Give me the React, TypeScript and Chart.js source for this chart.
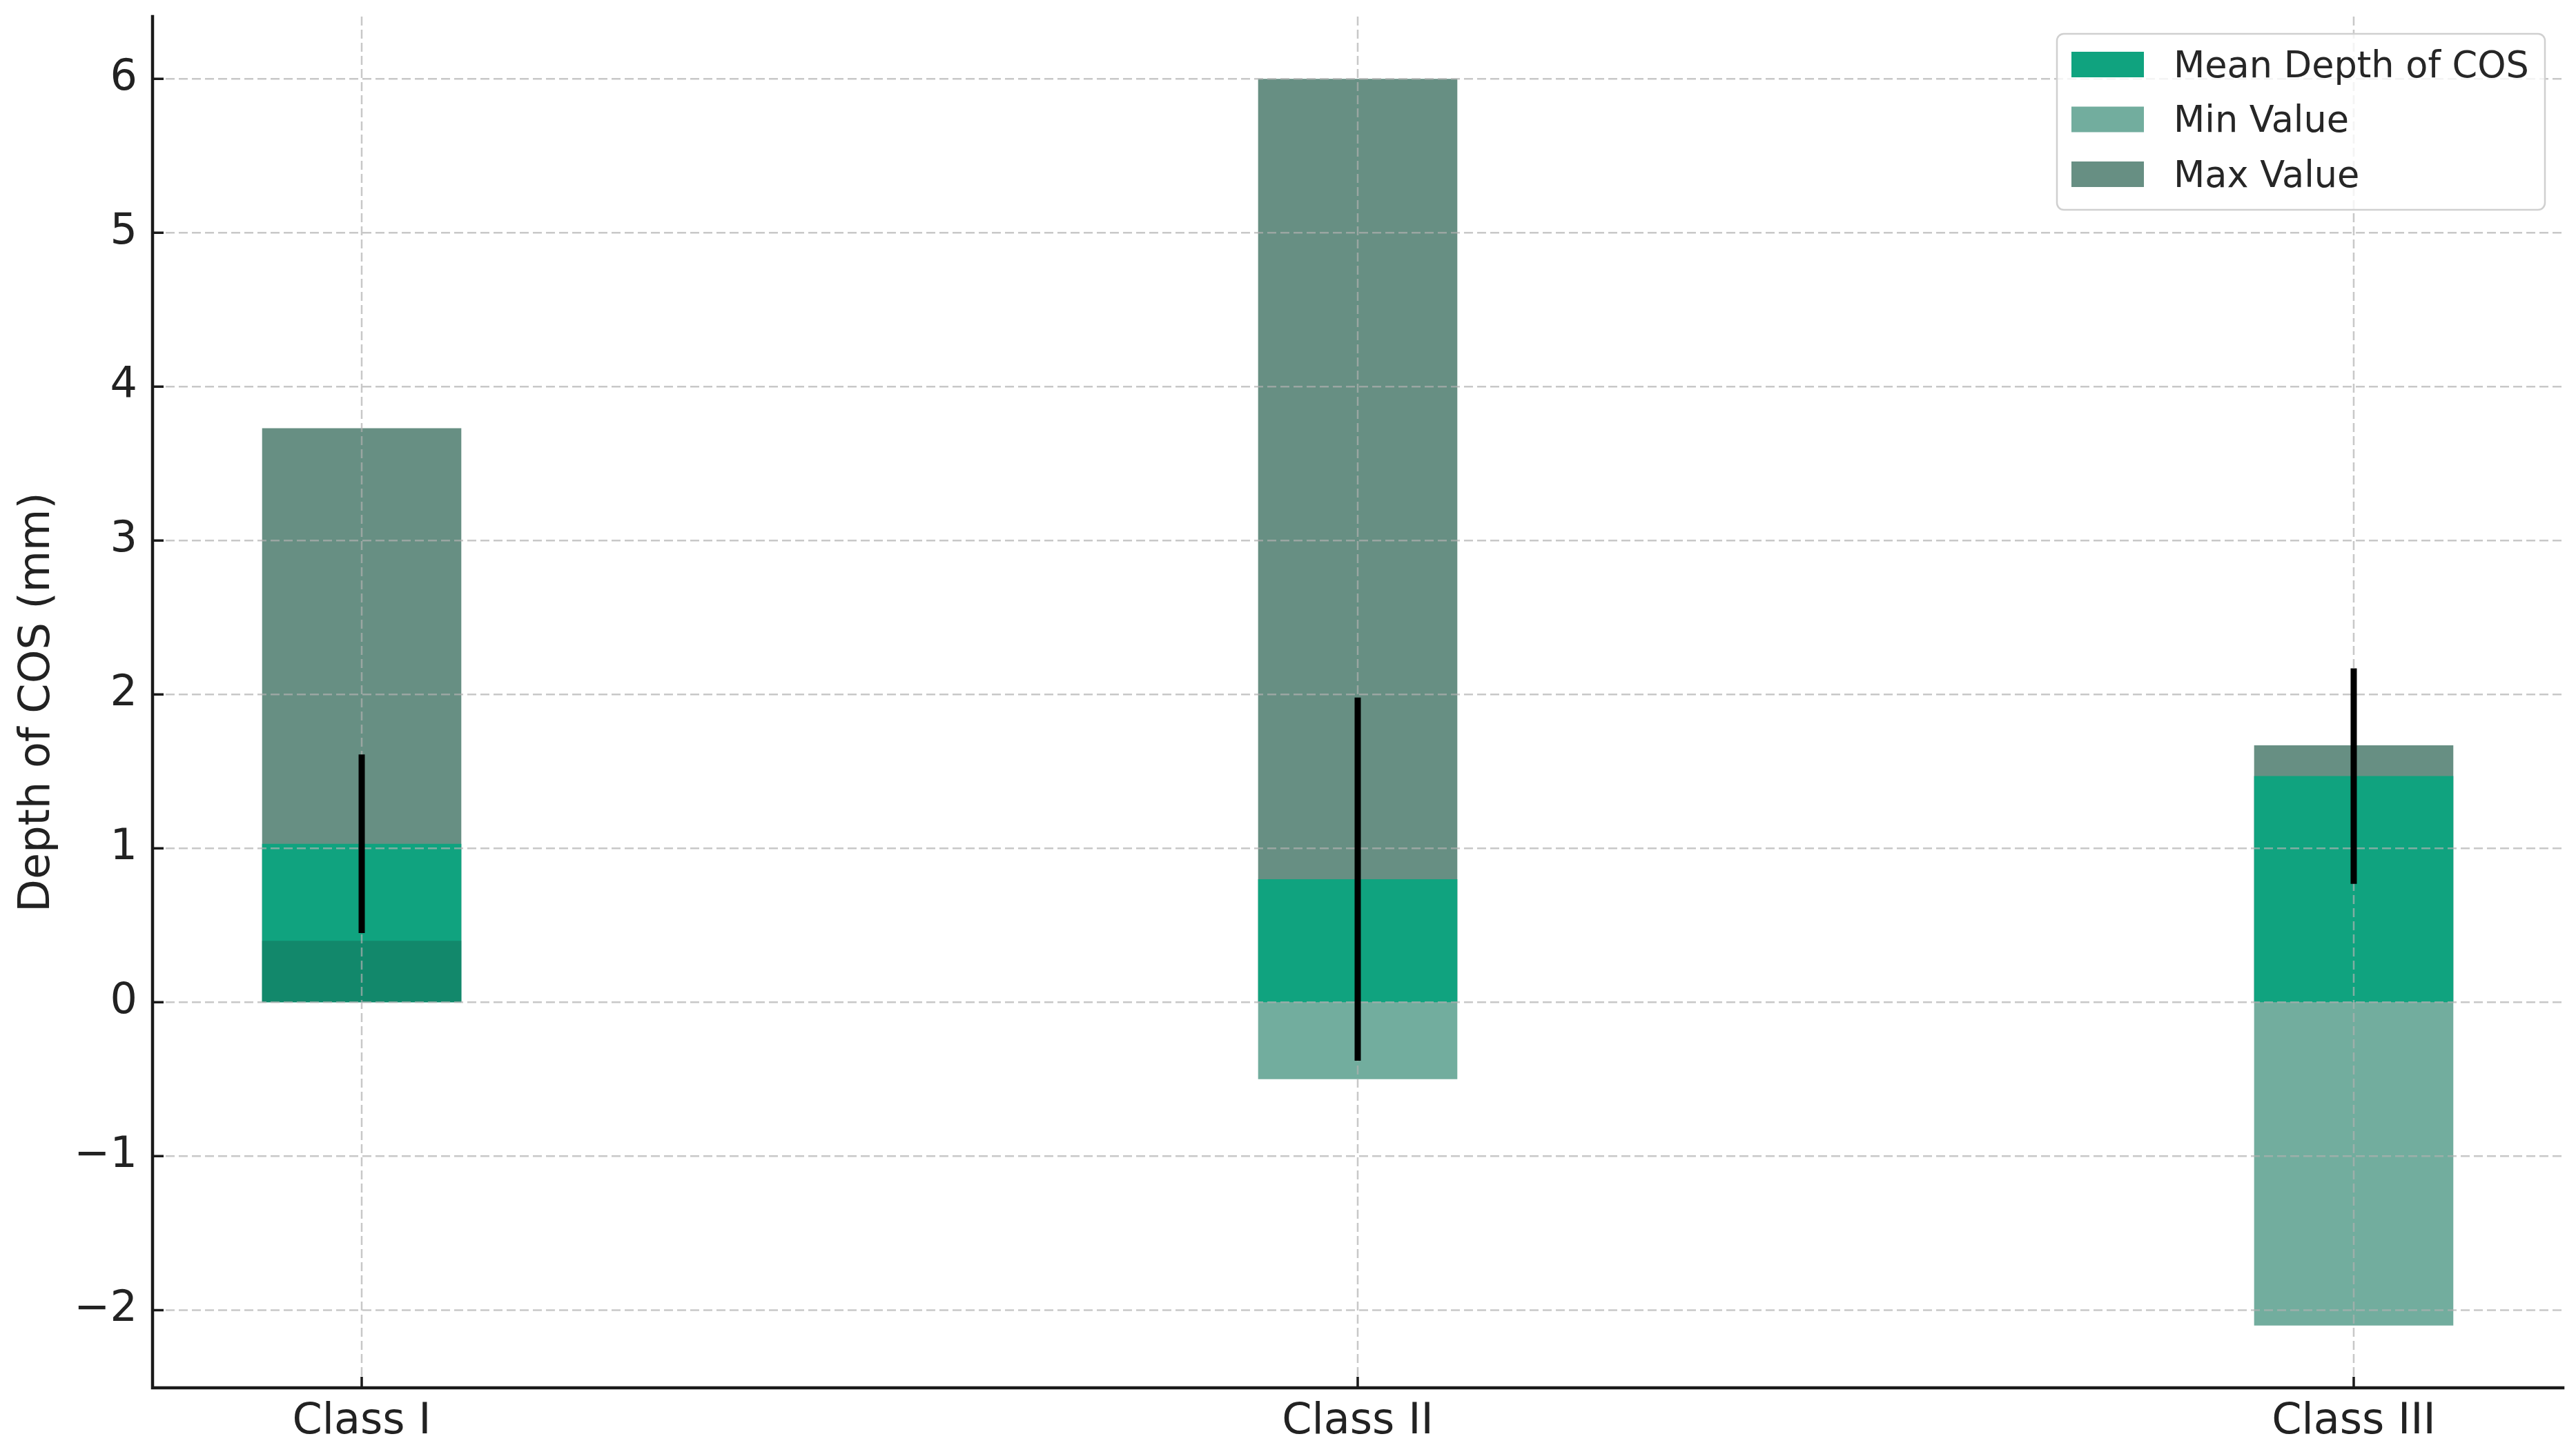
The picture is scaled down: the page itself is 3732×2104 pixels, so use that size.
import React, { useEffect, useRef } from 'react';
import { Chart, registerables } from 'chart.js';

Chart.register(...registerables);

// ---- data ----
const categories = ['Class I', 'Class II', 'Class III'];
const categoryPositions = [0, 1, 2];
const meanDepth = [1.03, 0.8, 1.47];
const stdDepth = [0.58, 1.18, 0.7];
const minValues = [0.4, -0.5, -2.1];
const maxValues = [3.73, 6.0, 1.67];
const yTickValues = [-2, -1, 0, 1, 2, 3, 4, 5, 6];
const seriesLabels = ['Mean Depth of COS', 'Min Value', 'Max Value'];
const yAxisTitle = 'Depth of COS (mm)';

const W = 3732;
const H = 2104;
const FONT = '"DejaVu Sans", "Liberation Sans", sans-serif';
const BAR_WIDTH = 0.2;

const meanColor = '#10a37f';
const minColor = 'rgba(20,118,93,0.6)';
const maxColor = 'rgba(2,68,48,0.6)';

// matplotlib-like margins
const allBarVals = [...meanDepth, ...minValues, ...maxValues, 0];
const yLo = Math.min(...allBarVals, ...meanDepth.map((m, i) => m - stdDepth[i]));
const yHi = Math.max(...allBarVals, ...meanDepth.map((m, i) => m + stdDepth[i]));
const yPad = (yHi - yLo) * 0.05;
const xLo = categoryPositions[0] - BAR_WIDTH / 2;
const xHi = categoryPositions[categoryPositions.length - 1] + BAR_WIDTH / 2;
const xPad = (xHi - xLo) * 0.05;

const fmt = (v: number) => (v < 0 ? '\u2212' + Math.abs(v) : String(v));

const overlayPlugin = {
  id: 'mplOverlay',
  afterDatasetsDraw(chart: any) {
    const { ctx, chartArea: ca } = chart;
    const x = chart.scales.x;
    const y = chart.scales.y;
    ctx.save();

    // grid (drawn above bars, like the reference)
    ctx.beginPath();
    ctx.strokeStyle = 'rgba(176,176,176,0.7)';
    ctx.lineWidth = 2.5;
    ctx.setLineDash([13, 6]);
    yTickValues.forEach((v) => {
      const py = y.getPixelForValue(v);
      ctx.moveTo(ca.left, py);
      ctx.lineTo(ca.right, py);
    });
    categoryPositions.forEach((v) => {
      const px = x.getPixelForValue(v);
      ctx.moveTo(px, ca.top);
      ctx.lineTo(px, ca.bottom);
    });
    ctx.stroke();
    ctx.setLineDash([]);

    // error bars
    ctx.beginPath();
    ctx.strokeStyle = '#000';
    ctx.lineWidth = 9;
    ctx.lineCap = 'butt';
    categoryPositions.forEach((v, i) => {
      const px = x.getPixelForValue(v);
      ctx.moveTo(px, y.getPixelForValue(meanDepth[i] - stdDepth[i]));
      ctx.lineTo(px, y.getPixelForValue(meanDepth[i] + stdDepth[i]));
    });
    ctx.stroke();

    // spines
    ctx.beginPath();
    ctx.strokeStyle = '#1a1a1a';
    ctx.lineWidth = 4.5;
    ctx.lineCap = 'square';
    ctx.moveTo(ca.left, ca.top);
    ctx.lineTo(ca.left, ca.bottom);
    ctx.lineTo(ca.right, ca.bottom);
    ctx.stroke();

    // inward tick marks
    ctx.beginPath();
    ctx.lineWidth = 3.5;
    ctx.lineCap = 'butt';
    yTickValues.forEach((v) => {
      const py = y.getPixelForValue(v);
      ctx.moveTo(ca.left, py);
      ctx.lineTo(ca.left + 16, py);
    });
    categoryPositions.forEach((v) => {
      const px = x.getPixelForValue(v);
      ctx.moveTo(px, ca.bottom);
      ctx.lineTo(px, ca.bottom - 16);
    });
    ctx.stroke();

    // legend (upper right, inside axes)
    const datasets = chart.data.datasets;
    const boxW = 707;
    const boxH = 255;
    const bx = ca.right - 26 - boxW;
    const by = ca.top + 25;
    const r = 10;
    ctx.beginPath();
    ctx.moveTo(bx + r, by);
    ctx.arcTo(bx + boxW, by, bx + boxW, by + boxH, r);
    ctx.arcTo(bx + boxW, by + boxH, bx, by + boxH, r);
    ctx.arcTo(bx, by + boxH, bx, by, r);
    ctx.arcTo(bx, by, bx + boxW, by, r);
    ctx.closePath();
    ctx.fillStyle = 'rgba(255,255,255,0.8)';
    ctx.fill();
    ctx.strokeStyle = '#d0d0d0';
    ctx.lineWidth = 2.5;
    ctx.stroke();

    const legendFont = 52.5;
    ctx.font = `${legendFont}px ${FONT}`;
    ctx.textAlign = 'left';
    ctx.textBaseline = 'alphabetic';
    datasets.forEach((ds: any, i: number) => {
      const cy = by + 44 + i * 79.5;
      ctx.fillStyle = ds.backgroundColor;
      ctx.fillRect(bx + 21, cy - 18, 105, 37);
      ctx.fillStyle = '#262626';
      ctx.fillText(ds.label, bx + 169, cy + legendFont * 0.36);
    });

    ctx.restore();
  },
};

export default function App() {
  const ref = useRef<HTMLCanvasElement>(null);

  useEffect(() => {
    document.body.style.margin = '0';
    const mk = (vals: number[]) => categoryPositions.map((p, i) => ({ x: p, y: vals[i] }));
    const common = {
      grouped: false,
      barPercentage: BAR_WIDTH,
      categoryPercentage: 1,
      borderWidth: 0,
    };
    const chart = new Chart(ref.current as HTMLCanvasElement, {
      type: 'bar',
      data: {
        datasets: [
          { ...common, label: seriesLabels[0], data: mk(meanDepth), backgroundColor: meanColor, order: 2 },
          { ...common, label: seriesLabels[1], data: mk(minValues), backgroundColor: minColor, order: 1 },
          { ...common, label: seriesLabels[2], data: mk(maxValues), backgroundColor: maxColor, order: 3 },
        ],
      } as any,
      options: {
        animation: false,
        responsive: false,
        devicePixelRatio: 1,
        events: [],
        layout: { padding: { top: 24, right: 19, left: 0, bottom: 0 } },
        plugins: {
          legend: { display: false },
          tooltip: { enabled: false },
          title: { display: false },
        },
        scales: {
          x: {
            type: 'linear',
            min: xLo - xPad,
            max: xHi + xPad,
            offset: false,
            grid: { display: false, drawTicks: false },
            border: { display: false },
            afterBuildTicks: (s: any) => {
              s.ticks = categoryPositions.map((v) => ({ value: v }));
            },
            afterFit: (s: any) => {
              s.height = 93;
              s.paddingLeft = 0;
              s.paddingRight = 0;
            },
            ticks: {
              autoSkip: false,
              maxRotation: 0,
              padding: 13,
              color: '#222',
              font: { family: FONT, size: 62 },
              callback: (_v: any, i: number) => categories[i],
            },
          },
          y: {
            type: 'linear',
            min: yLo - yPad,
            max: yHi + yPad,
            grid: { display: false, drawTicks: false },
            border: { display: false },
            afterBuildTicks: (s: any) => {
              s.ticks = yTickValues.map((v) => ({ value: v }));
            },
            afterFit: (s: any) => {
              s.width = 221;
              s.paddingTop = 0;
              s.paddingBottom = 0;
            },
            ticks: {
              padding: 22,
              color: '#222',
              font: { family: FONT, size: 62 },
              callback: (v: any) => fmt(Number(v)),
            },
            title: {
              display: true,
              text: yAxisTitle,
              color: '#222',
              padding: { top: 18, bottom: 0 },
              font: { family: FONT, size: 62, lineHeight: 1.2 },
            },
          },
        },
      } as any,
      plugins: [overlayPlugin],
    });
    return () => chart.destroy();
  }, []);

  return (
    <div style={{ position: 'fixed', left: 0, top: 0, width: W, height: H, background: '#fff' }}>
      <canvas ref={ref} width={W} height={H} style={{ width: W, height: H, display: 'block' }} />
    </div>
  );
}
